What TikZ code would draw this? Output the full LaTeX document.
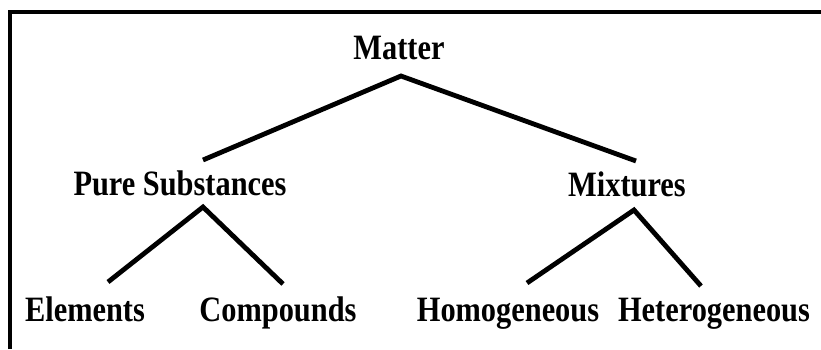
\documentclass[tikz,border=0pt]{standalone}
\usepackage{graphicx}
\usepackage{fontspec}
\setmainfont{Liberation Serif}
\newcommand\talltext[1]{\scalebox{0.98}[1.15]{#1}}
\begin{document}
\begin{tikzpicture}[x=1pt,y=-1pt,
  lbl/.style={inner sep=0pt,anchor=base,font=\fontsize{31}{36}\bfseries\selectfont},
  conn/.style={line width=4.8pt,line cap=butt,line join=miter},
  frame/.style={line width=4pt}]
\useasboundingbox (0,0) rectangle (821,349);
\draw[frame] (10,349) -- (10,12) -- (821,12);
\node[lbl] (matter) at (399,59) {\talltext{Matter}};
\node[lbl] (pure) at (180,195) {\talltext{Pure Substances}};
\node[lbl] (mix) at (627,196) {\talltext{Mixtures}};
\node[lbl] (el) at (85,321) {\talltext{Elements}};
\node[lbl] (comp) at (278,321) {\talltext{Compounds}};
\node[lbl] (homo) at (508,321) {\talltext{Homogeneous}};
\node[lbl] (hetero) at (714,321) {\talltext{Heterogeneous}};
\coordinate (a1) at (401,76);
\coordinate (a1l) at (203,160);
\coordinate (a1r) at (636,161);
\coordinate (a2) at (203,207);
\coordinate (a2l) at (108,282);
\coordinate (a2r) at (283,284);
\coordinate (a3) at (634,210);
\coordinate (a3l) at (527,283);
\coordinate (a3r) at (701,286);
\draw[conn] (a1l) -- (a1) -- (a1r);
\draw[conn] (a2l) -- (a2) -- (a2r);
\draw[conn] (a3l) -- (a3) -- (a3r);
\end{tikzpicture}
\end{document}
